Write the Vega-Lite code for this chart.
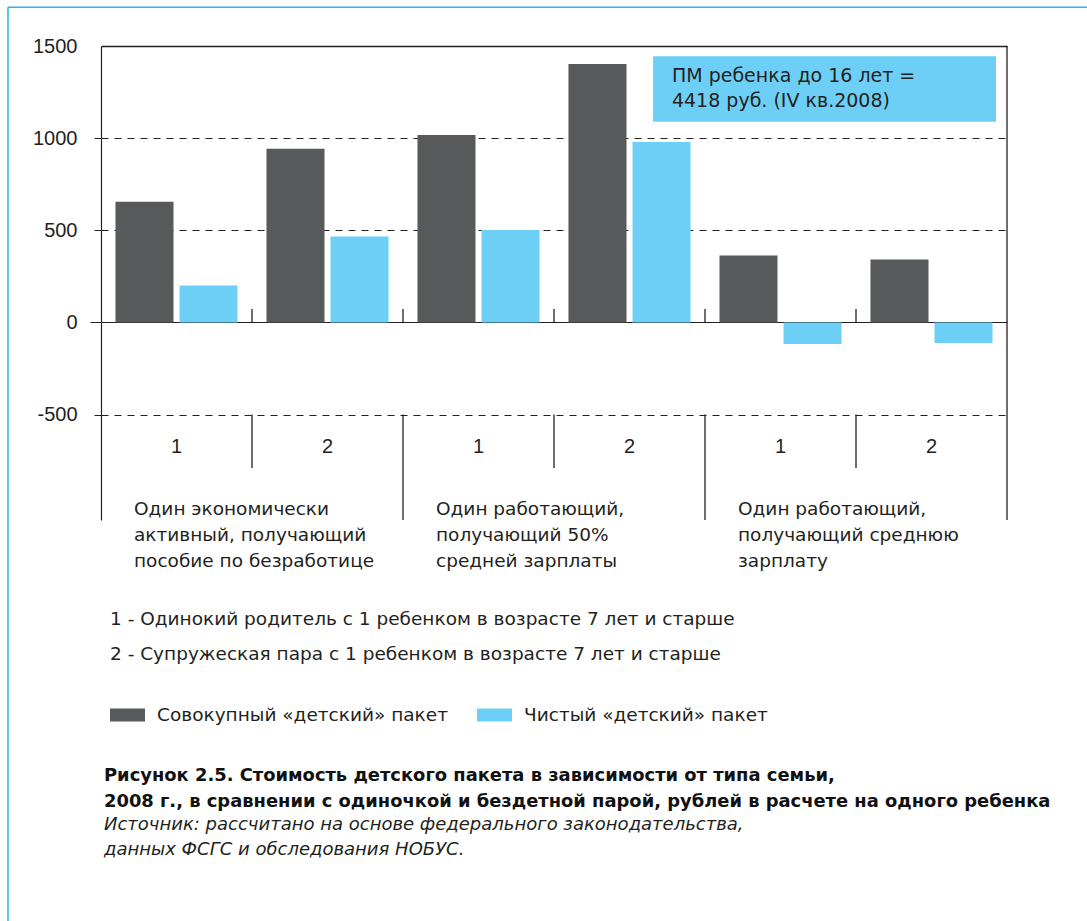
{
  "$schema": "https://vega.github.io/schema/vega-lite/v6.json",
  "width": 906,
  "height": 474,
  "autosize": {"type": "none"},
  "padding": {"left": 101, "top": 46, "right": 80, "bottom": 401},
  "background": "white",
  "config": {
    "view": {"stroke": null},
    "font": "DejaVu Sans",
    "text": {"font": "DejaVu Sans", "color": "#231f20"}
  },
  "title": {
    "text": ["Рисунок 2.5. Стоимость детского пакета в зависимости от типа семьи,", "2008 г., в сравнении с одиночкой и бездетной парой, рублей в расчете на одного ребенка"],
    "subtitle": ["Источник: рассчитано на основе федерального законодательства,", "данных ФСГС и обследования НОБУС."],
    "orient": "bottom",
    "anchor": "start",
    "frame": "group",
    "offset": -156,
    "dx": 3,
    "font": "DejaVu Sans",
    "fontSize": 17.9,
    "fontWeight": "bold",
    "color": "#111111",
    "lineHeight": 26,
    "subtitleFont": "DejaVu Sans",
    "subtitleFontSize": 18,
    "subtitleFontStyle": "italic",
    "subtitleFontWeight": "normal",
    "subtitleColor": "#231f20",
    "subtitleLineHeight": 25,
    "subtitlePadding": 5
  },
  "resolve": {"scale": {"x": "independent"}},
  "layer": [
    {
      "layer": [
        {
          "data": {"values": [
            {"sub": "g1-1", "series": "Совокупный «детский» пакет", "value": 655},
            {"sub": "g1-1", "series": "Чистый «детский» пакет", "value": 200},
            {"sub": "g1-2", "series": "Совокупный «детский» пакет", "value": 942},
            {"sub": "g1-2", "series": "Чистый «детский» пакет", "value": 466},
            {"sub": "g2-1", "series": "Совокупный «детский» пакет", "value": 1017},
            {"sub": "g2-1", "series": "Чистый «детский» пакет", "value": 501},
            {"sub": "g2-2", "series": "Совокупный «детский» пакет", "value": 1402},
            {"sub": "g2-2", "series": "Чистый «детский» пакет", "value": 979},
            {"sub": "g3-1", "series": "Совокупный «детский» пакет", "value": 363},
            {"sub": "g3-1", "series": "Чистый «детский» пакет", "value": -117},
            {"sub": "g3-2", "series": "Совокупный «детский» пакет", "value": 341},
            {"sub": "g3-2", "series": "Чистый «детский» пакет", "value": -112}
          ]},
          "mark": {"type": "bar"},
          "encoding": {
            "x": {"field": "sub", "type": "nominal", "sort": null, "axis": null,
                  "scale": {"domain": ["g1-1", "g1-2", "g2-1", "g2-2", "g3-1", "g3-2"], "paddingInner": 0, "paddingOuter": 0}},
            "xOffset": {"field": "series", "type": "nominal", "sort": null,
                  "scale": {"domain": ["Совокупный «детский» пакет", "Чистый «детский» пакет"], "paddingInner": 0.094, "paddingOuter": 0.226}},
            "y": {"field": "value", "type": "quantitative", "title": null,
                  "scale": {"domain": [-1072, 1500], "nice": false, "zero": false},
                  "axis": {
                    "values": [-500, 0, 500, 1000, 1500],
                    "labelExpr": "'' + datum.value",
                    "title": null,
                    "grid": true,
                    "gridColor": "#231f20",
                    "gridDash": {"condition": {"test": "datum.value === 0 || datum.value === 1500", "value": []}, "value": [7, 6]},
                    "gridWidth": {"condition": {"test": "datum.value === 1500", "value": 1.5}, "value": 1},
                    "tickSize": 11,
                    "tickColor": "#231f20",
                    "tickDash": {"condition": {"test": "datum.value === 0", "value": []}, "value": [7, 6]},
                    "tickOpacity": {"condition": {"test": "datum.value === 1500", "value": 0}, "value": 1},
                    "domainColor": "#231f20",
                    "domainWidth": 1.2,
                    "labelFont": "Liberation Sans",
                    "labelFontSize": 20,
                    "labelColor": "#231f20",
                    "labelPadding": 13
                  }},
            "color": {"field": "series", "type": "nominal",
                  "scale": {"domain": ["Совокупный «детский» пакет", "Чистый «детский» пакет"], "range": ["#58595b", "#6dcff6"]},
                  "legend": {
                    "orient": "none",
                    "legendX": 9,
                    "legendY": 564,
                    "direction": "horizontal",
                    "title": ["1 - Одинокий родитель с 1 ребенком в возрасте 7 лет и старше", "2 - Супружеская пара с 1 ребенком в возрасте 7 лет и старше"],
                    "titleFont": "DejaVu Sans",
                    "titleFontSize": 18.5,
                    "titleFontWeight": "normal",
                    "titleColor": "#231f20",
                    "titleLineHeight": 35,
                    "titlePadding": 34,
                    "titleLimit": 900,
                    "labelFont": "DejaVu Sans",
                    "labelFontSize": 18.5,
                    "labelColor": "#231f20",
                    "labelOffset": 12,
                    "labelLimit": 500,
                    "symbolType": "M-1,-0.37H1V0.37H-1Z",
                    "symbolSize": 1225,
                    "symbolStrokeWidth": 0,
                    "symbolOpacity": 1,
                    "columnPadding": 29
                  }}
          }
        },
        {
          "data": {"values": [
            {"sub": "g1-1", "label": "1"}, {"sub": "g1-2", "label": "2"},
            {"sub": "g2-1", "label": "1"}, {"sub": "g2-2", "label": "2"},
            {"sub": "g3-1", "label": "1"}, {"sub": "g3-2", "label": "2"}
          ]},
          "mark": {"type": "text", "font": "Liberation Sans", "fontSize": 20, "align": "center", "baseline": "middle", "color": "#231f20"},
          "encoding": {
            "x": {"field": "sub", "type": "nominal", "sort": null},
            "y": {"datum": -674},
            "text": {"field": "label"}
          }
        },
        {
          "data": {"values": [
            {"sub": "g1-1", "label": "Один экономически\nактивный, получающий\nпособие по безработице"},
            {"sub": "g2-1", "label": "Один работающий,\nполучающий 50%\nсредней зарплаты"},
            {"sub": "g3-1", "label": "Один работающий,\nполучающий среднюю\nзарплату"}
          ]},
          "mark": {"type": "text", "fontSize": 18.5, "align": "left", "baseline": "alphabetic", "dx": 33, "lineBreak": "\n", "lineHeight": 26, "color": "#231f20"},
          "encoding": {
            "x": {"field": "sub", "type": "nominal", "sort": null, "bandPosition": 0},
            "y": {"datum": -1045},
            "text": {"field": "label"}
          }
        },
        {
          "data": {"values": [{"sub": "g1-2"}, {"sub": "g2-2"}, {"sub": "g3-2"}]},
          "mark": {"type": "rule", "color": "#231f20", "strokeWidth": 1.3},
          "encoding": {
            "x": {"field": "sub", "type": "nominal", "sort": null, "bandPosition": 0},
            "y": {"datum": -500},
            "y2": {"datum": -790}
          }
        },
        {
          "data": {"values": [{"sub": "g2-1"}, {"sub": "g3-1"}]},
          "mark": {"type": "rule", "color": "#231f20", "strokeWidth": 1.3},
          "encoding": {
            "x": {"field": "sub", "type": "nominal", "sort": null, "bandPosition": 0},
            "y": {"datum": -500},
            "y2": {"datum": -1072}
          }
        },
        {
          "data": {"values": [{"sub": "g1-2"}, {"sub": "g2-1"}, {"sub": "g2-2"}, {"sub": "g3-1"}, {"sub": "g3-2"}]},
          "mark": {"type": "rule", "color": "#231f20", "strokeWidth": 1.3},
          "encoding": {
            "x": {"field": "sub", "type": "nominal", "sort": null, "bandPosition": 0},
            "y": {"datum": 0},
            "y2": {"datum": 73}
          }
        }
      ]
    },
    {
      "layer": [
        {
          "data": {"values": [{}]},
          "mark": {"type": "rect", "color": "#6dcff6"},
          "encoding": {
            "x": {"datum": 3.656, "type": "quantitative", "axis": null, "scale": {"domain": [0, 6], "nice": false, "zero": false}},
            "x2": {"datum": 5.927},
            "y": {"datum": 1445},
            "y2": {"datum": 1089}
          }
        },
        {
          "data": {"values": [{"note": "ПМ ребенка до 16 лет =\n4418 руб. (IV кв.2008)"}]},
          "mark": {"type": "text", "fontSize": 19, "align": "left", "baseline": "alphabetic", "lineBreak": "\n", "lineHeight": 25, "color": "#231f20"},
          "encoding": {
            "x": {"datum": 3.781},
            "y": {"datum": 1306},
            "text": {"field": "note"}
          }
        },
        {
          "data": {"values": [{}]},
          "mark": {"type": "rule", "color": "#231f20", "strokeWidth": 1.3},
          "encoding": {
            "x": {"datum": 6}
          }
        },
        {
          "data": {"values": [{}]},
          "mark": {"type": "rule", "color": "#2bb3ea", "strokeWidth": 1.5},
          "encoding": {
            "x": {"datum": -0.616},
            "x2": {"datum": 6.53},
            "y": {"datum": 1710}
          }
        },
        {
          "data": {"values": [{}]},
          "mark": {"type": "rule", "color": "#2bb3ea", "strokeWidth": 1.5},
          "encoding": {
            "x": {"datum": -0.616},
            "y": {"datum": 1710},
            "y2": {"datum": -3253}
          }
        }
      ]
    }
  ]
}
